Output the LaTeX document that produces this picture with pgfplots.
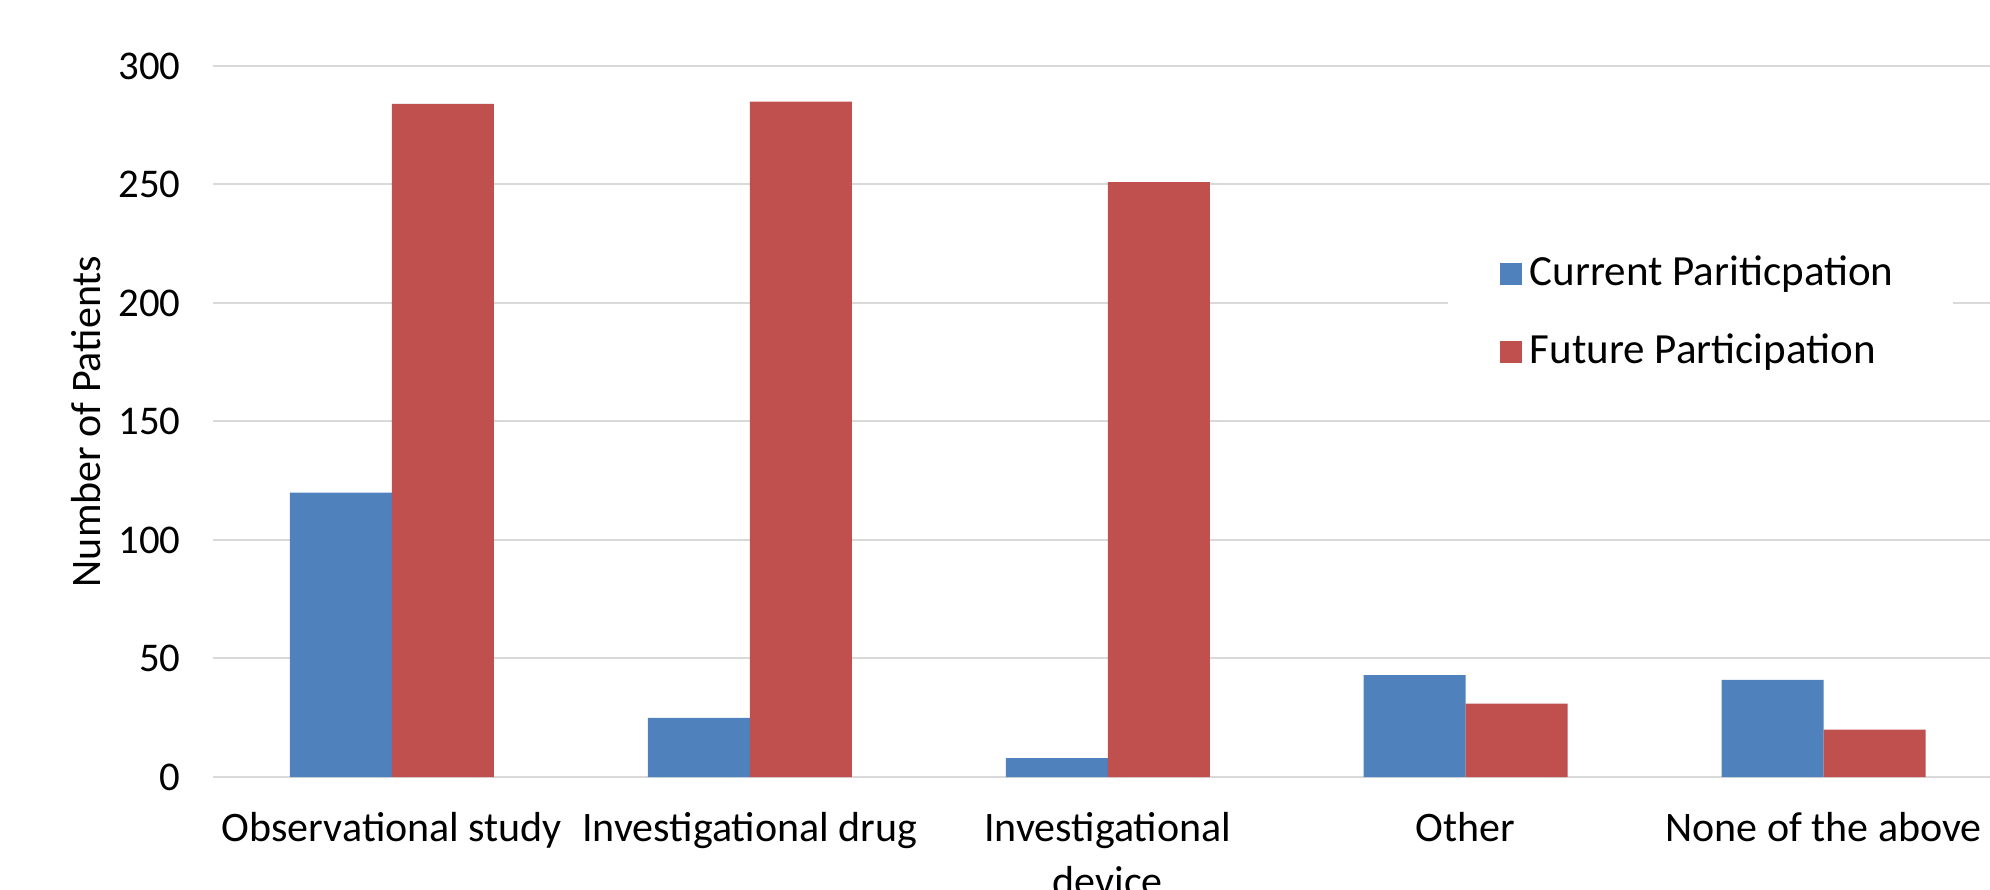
\documentclass[border=0pt]{standalone}
\usepackage{fontspec}
\setmainfont{Carlito}
\usepackage{pgfplots}
\pgfplotsset{compat=1.18}

\definecolor{curblue}{HTML}{4F81BD}
\definecolor{futred}{HTML}{C0504D}
\definecolor{gridgray}{HTML}{D9D9D9}

\begin{document}
\begin{tikzpicture}
% fixed page frame: 1 px = 0.25 pt
\useasboundingbox (0,0) rectangle (497.5pt,222.25pt);
\begin{axis}[
  at={(53.25pt,28pt)}, anchor=south west,
  scale only axis,
  width=447.375pt, height=177.75pt,
  ybar=0pt, bar width=25.5pt,
  xmin=-0.5, xmax=4.5,
  ymin=0, ymax=300,
  ytick={0,50,...,300},
  xtick=data,
  xticklabels={Observational study,Investigational drug,{Investigational\\device},Other,None of the above},
  xticklabel style={align=center, yshift=-5.4pt, font=\fontsize{10.5}{13.3}\selectfont},
  yticklabel style={xshift=-4.6pt, font=\fontsize{10.2}{12}\selectfont},
  /pgf/number format/assume math mode=true,
  major tick length=0pt,
  axis line style={draw=none},
  ymajorgrids,
  grid style={gridgray, line width=0.5pt},
  extra y ticks={0},
  extra y tick labels={},
  extra y tick style={grid style={gridgray, line width=0.6pt}},
  ylabel={Number of Patients},
  every axis y label/.style={at={(axis description cs:-0.071,0.5)}, rotate=90, anchor=center,
    font=\fontsize{10.5}{12}\selectfont},
  legend style={at={(0.6896,0.762)}, anchor=north west, draw=none, fill=white,
    inner xsep=13pt, inner ysep=3pt, row sep=6.5pt,
    font=\fontsize{10.75}{12}\selectfont},
  legend cell align=left,
  legend image code/.code={\fill[#1] (0pt,-2.75pt) rectangle (5.5pt,2.75pt);},
]
\addplot[draw=none, fill=curblue] coordinates {(0,120) (1,25) (2,8) (3,43) (4,41)};
\addplot[draw=none, fill=futred] coordinates {(0,284) (1,285) (2,251) (3,31) (4,20)};
\legend{Current Pariticpation, Future Participation}
\end{axis}
\end{tikzpicture}
\end{document}
